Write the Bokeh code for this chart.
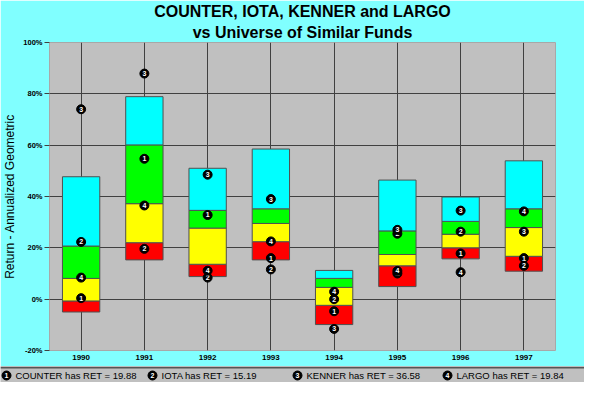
from bokeh.plotting import figure
from bokeh.models import (ColumnDataSource, Range1d, FixedTicker, PrintfTickFormatter,
                          Title, Span)
from bokeh.layouts import column
from bokeh.core.properties import value
from bokeh.embed import file_html
from bokeh.resources import INLINE

# ---------------- data ----------------
years = ["1990", "1991", "1992", "1993", "1994", "1995", "1996", "1997"]

# universe percentile boundaries (%)
p_low = [-5.0, 15.3, 8.8, 15.3, -9.9, 4.9, 15.7, 10.9]
p_q1 = [-0.7, 22.0, 13.6, 22.4, -2.4, 13.0, 20.0, 16.7]
p_med = [8.1, 37.2, 27.7, 29.5, 4.6, 17.4, 25.3, 27.9]
p_q3 = [20.7, 60.1, 34.6, 35.2, 8.1, 26.6, 30.3, 35.2]
p_high = [47.7, 78.9, 51.0, 58.5, 11.2, 46.4, 39.8, 53.9]

funds = ["COUNTER", "IOTA", "KENNER", "LARGO"]
fund_ret = [19.88, 15.19, 36.58, 19.84]
counter = [0.4, 54.7, 32.8, 16.0, -4.7, 10.0, 17.8, 16.0]
iota = [22.3, 19.6, 8.4, 11.6, 0.0, 25.5, 26.3, 13.0]
kenner = [74.0, 87.9, 48.5, 39.0, -11.6, 27.0, 34.5, 26.3]
largo = [8.4, 36.5, 11.1, 22.5, 2.9, 11.0, 10.5, 34.2]

y_ticks = [-20, 0, 20, 40, 60, 80, 100]

FONT = "Liberation Sans"
BG = "#80FFFF"
PLOT_BG = "#C0C0C0"
GRID = "#404040"

# ---------------- main figure ----------------
p = figure(width=584, height=366, x_range=years, y_range=Range1d(-20, 100),
           output_backend="svg", toolbar_location=None,
           min_border_left=0, min_border_right=29, min_border_top=36,
           min_border_bottom=16,
           background_fill_color=PLOT_BG, border_fill_color=BG,
           outline_line_color="#A8A8A8")
p.frame_align = False

p.title.text = "COUNTER, IOTA, KENNER and LARGO"
p.title.align = "center"
p.title.text_font = FONT
p.title.text_font_size = "16px"
p.title.text_font_style = "bold"
p.title.text_color = "black"
p.title.standoff = 0
p.add_layout(Title(text="vs Universe of Similar Funds", align="center",
                   text_font=FONT, text_font_size="16px", text_font_style="bold",
                   text_color="black", standoff=4), "above")

src = ColumnDataSource(dict(x=years, low=p_low, q1=p_q1, med=p_med, q3=p_q3, high=p_high))
bw = 0.59
for b, t, c in [("low", "q1", "#FF0000"), ("q1", "med", "#FFFF00"),
                ("med", "q3", "#00FF00"), ("q3", "high", "#00FFFF")]:
    p.vbar(x="x", bottom=b, top=t, width=bw, source=src, fill_color=c,
           line_color="#505050", line_width=1)

series = [counter, iota, kenner, largo]
for i, vals in enumerate(series):
    s = ColumnDataSource(dict(x=years, y=vals, lab=[str(i + 1)] * len(years)))
    p.scatter(x="x", y="y", source=s, marker="circle", size=9,
              fill_color="black", line_color="black")
    p.text(x="x", y="y", text="lab", source=s, text_color="white",
           text_align="center", text_baseline="middle", text_font=value(FONT),
           text_font_size="7px", text_font_style="bold")

# grids
p.xgrid.grid_line_color = GRID
p.xgrid.grid_line_width = 1
p.ygrid.grid_line_color = GRID
p.ygrid.grid_line_width = 1

# y axis
p.yaxis.ticker = FixedTicker(ticks=y_ticks)
p.yaxis.formatter = PrintfTickFormatter(format="%d%%")
p.yaxis.axis_label = "Return - Annualized Geometric"
p.yaxis.axis_label_text_font = FONT
p.yaxis.axis_label_text_font_size = "12px"
p.yaxis.axis_label_text_font_style = "normal"
p.yaxis.axis_label_text_color = "black"
p.yaxis.axis_label_standoff = 3
p.yaxis.major_label_text_font = FONT
p.yaxis.major_label_text_font_size = "7.5px"
p.yaxis.major_label_text_font_style = "bold"
p.yaxis.major_label_text_color = "black"
p.yaxis.major_label_standoff = 2
p.yaxis.axis_line_color = None
p.yaxis.major_tick_line_color = GRID
p.yaxis.major_tick_out = 5
p.yaxis.major_tick_in = 0
p.yaxis.minor_tick_line_color = None

# x axis
p.xaxis.major_label_text_font = FONT
p.xaxis.major_label_text_font_size = "8px"
p.xaxis.major_label_text_font_style = "bold"
p.xaxis.major_label_text_color = "black"
p.xaxis.major_label_standoff = 4
p.xaxis.axis_line_color = None
p.xaxis.major_tick_line_color = None
p.xaxis.major_tick_out = 0
p.xaxis.major_tick_in = 0

# ---------------- legend strip ----------------
p2 = figure(width=584, height=16, x_range=Range1d(0, 584), y_range=Range1d(0, 16),
            output_backend="svg", toolbar_location=None, title=None,
            x_axis_location=None, y_axis_location=None, min_border=0,
            min_border_left=0, min_border_right=0, min_border_top=0, min_border_bottom=0,
            background_fill_color=PLOT_BG, border_fill_color=PLOT_BG,
            outline_line_color=None)
p2.frame_align = False
p2.grid.visible = False
p2.add_layout(Span(location=15, dimension="width", line_color="#555555", line_width=2))

leg_x = [6, 152, 297, 447]
leg_src = ColumnDataSource(dict(
    x=leg_x, tx=[v + 9 for v in leg_x], y=[7] * 4,
    num=[str(i + 1) for i in range(4)],
    txt=[f"{n} has RET = {r:.2f}" for n, r in zip(funds, fund_ret)]))
p2.scatter(x="x", y="y", source=leg_src, marker="circle", size=9,
           fill_color="black", line_color="black")
p2.text(x="x", y="y", text="num", source=leg_src, text_color="white",
        text_align="center", text_baseline="middle", text_font=value(FONT),
        text_font_size="7px", text_font_style="bold")
p2.text(x="tx", y="y", text="txt", source=leg_src, text_color="black",
        text_align="left", text_baseline="middle", text_font=value(FONT),
        text_font_size="9.5px")

layout = column(p, p2, spacing=0)
open("out.html", "w").write(file_html(layout, INLINE))
